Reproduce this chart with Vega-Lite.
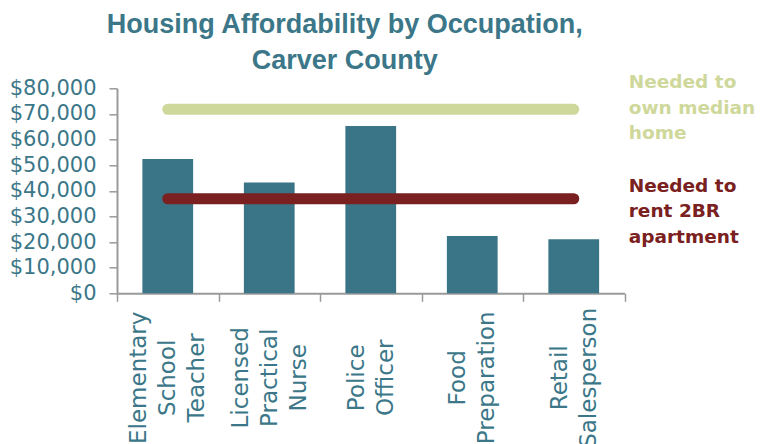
{
  "$schema": "https://vega.github.io/schema/vega-lite/v6.json",
  "width": 507.5,
  "height": 205,
  "autosize": {"type": "none"},
  "padding": {"left": 117, "top": 88.3, "right": 135.5, "bottom": 150.7},
  "background": "white",
  "title": {
    "text": ["Housing Affordability by Occupation,", "Carver County"],
    "font": "Liberation Sans",
    "fontSize": 27,
    "fontWeight": "bold",
    "color": "#3B7788",
    "lineHeight": 36,
    "anchor": "middle",
    "dx": -26,
    "offset": -2
  },
  "config": {"view": {"stroke": null}},
  "datasets": {
    "occupations": [
      {"occupation": "Elementary School Teacher", "amount": 52400},
      {"occupation": "Licensed Practical Nurse", "amount": 43200},
      {"occupation": "Police Officer", "amount": 65300},
      {"occupation": "Food Preparation", "amount": 22400},
      {"occupation": "Retail Salesperson", "amount": 21100}
    ],
    "thresholds": [
      {"occupation": "Elementary School Teacher", "series": "own", "amount": 71800},
      {"occupation": "Licensed Practical Nurse", "series": "own", "amount": 71800},
      {"occupation": "Police Officer", "series": "own", "amount": 71800},
      {"occupation": "Food Preparation", "series": "own", "amount": 71800},
      {"occupation": "Retail Salesperson", "series": "own", "amount": 71800},
      {"occupation": "Elementary School Teacher", "series": "rent", "amount": 36900},
      {"occupation": "Licensed Practical Nurse", "series": "rent", "amount": 36900},
      {"occupation": "Police Officer", "series": "rent", "amount": 36900},
      {"occupation": "Food Preparation", "series": "rent", "amount": 36900},
      {"occupation": "Retail Salesperson", "series": "rent", "amount": 36900}
    ],
    "labels": [
      {"occupation": "Retail Salesperson", "series": "own", "amount": 71800, "label": ["Needed to", "own median", "home"]},
      {"occupation": "Retail Salesperson", "series": "rent", "amount": 36900, "label": ["Needed to", "rent 2BR", "apartment"]}
    ]
  },
  "encoding": {
    "x": {
      "field": "occupation",
      "type": "nominal",
      "sort": null,
      "scale": {
        "domain": ["Elementary School Teacher", "Licensed Practical Nurse", "Police Officer", "Food Preparation", "Retail Salesperson"],
        "paddingInner": 0,
        "paddingOuter": 0
      },
      "axis": {
        "title": null,
        "labelExpr": "split(datum.label, ' ')",
        "labelAngle": -90,
        "labelAlign": "center",
        "labelBaseline": "middle",
        "labelFont": "DejaVu Sans",
        "labelFontSize": 23,
        "labelLineHeight": 29,
        "labelColor": "#3B7788",
        "labelPadding": 76,
        "labelOffset": {
          "condition": {"test": "datum.value === 'Elementary School Teacher' || datum.value === 'Licensed Practical Nurse'", "value": -29},
          "value": -14.5
        },
        "labelLimit": 0,
        "labelOverlap": false,
        "tickBand": "extent",
        "tickSize": 8,
        "tickColor": "#9A9A9A",
        "tickWidth": 1.5,
        "domainColor": "#9A9A9A",
        "domainWidth": 2
      }
    },
    "y": {
      "field": "amount",
      "type": "quantitative",
      "scale": {"domain": [0, 80000], "nice": false},
      "axis": {
        "title": null,
        "values": [0, 10000, 20000, 30000, 40000, 50000, 60000, 70000, 80000],
        "format": "$,.0f",
        "grid": false,
        "labelOverlap": false,
        "labelFlush": false,
        "labelFont": "DejaVu Sans",
        "labelFontSize": 21,
        "labelColor": "#3B7788",
        "labelPadding": 13,
        "tickSize": 8,
        "tickColor": "#9A9A9A",
        "tickWidth": 1.5,
        "domainColor": "#9A9A9A",
        "domainWidth": 2
      }
    }
  },
  "layer": [
    {
      "data": {"name": "occupations"},
      "mark": {"type": "bar", "color": "#3A7587", "width": {"band": 0.5}}
    },
    {
      "data": {"name": "thresholds"},
      "mark": {"type": "line", "strokeWidth": 11, "strokeCap": "round"},
      "encoding": {
        "color": {
          "field": "series",
          "type": "nominal",
          "scale": {"domain": ["own", "rent"], "range": ["#CFD89B", "#7A2020"]},
          "legend": null
        }
      }
    },
    {
      "data": {"name": "labels"},
      "transform": [{"filter": "datum.series === 'own'"}],
      "mark": {"type": "text", "align": "left", "baseline": "middle", "dx": 55, "dy": -27, "font": "DejaVu Sans", "fontWeight": "bold", "fontSize": 18.5, "lineHeight": 25.5},
      "encoding": {
        "text": {"field": "label"},
        "color": {"field": "series", "type": "nominal", "legend": null}
      }
    },
    {
      "data": {"name": "labels"},
      "transform": [{"filter": "datum.series === 'rent'"}],
      "mark": {"type": "text", "align": "left", "baseline": "middle", "dx": 55, "dy": -13, "font": "DejaVu Sans", "fontWeight": "bold", "fontSize": 18.5, "lineHeight": 25.5},
      "encoding": {
        "text": {"field": "label"},
        "color": {"field": "series", "type": "nominal", "legend": null}
      }
    }
  ]
}
